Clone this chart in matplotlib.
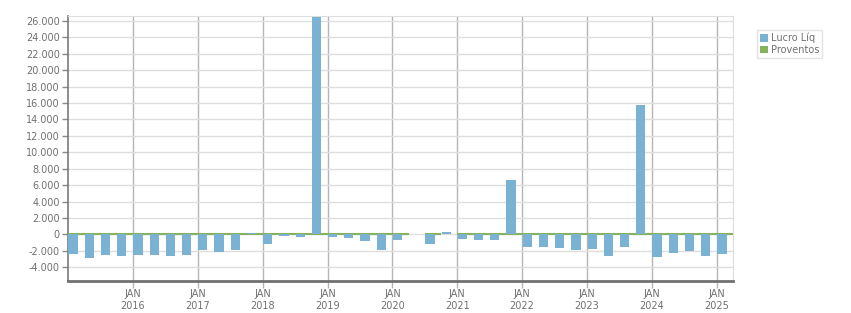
import numpy as np
import matplotlib
matplotlib.use("Agg")
import matplotlib.pyplot as plt
from matplotlib.patches import Patch

# quarterly values, Q1 2015 .. Q1 2025 (None = no data)
lucro_liq = [-2400, -2850, -2520, -2650, -2520, -2520, -2650, -2520,
             -1870, -2120, -1870, 150, -1150, -200, -300, 26500,
             -300, -410, -780, -1880, -660, None, -1180, 300,
             -570, -660, -670, 6620, -1530, -1530, -1650, -1890,
             -1770, -2630, -1530, 15800, -2750, -2260, -2000, -2620,
             -2380]
proventos = [0] * 21 + [None, 0, None] + [0] * 17
anos = [2016, 2017, 2018, 2019, 2020, 2021, 2022, 2023, 2024, 2025]

azul = "#7ab2d4"
verde = "#86b25c"
cinza_txt = "#707070"

fig = plt.figure(figsize=(8.51, 3.13), dpi=100)
ax = fig.add_axes([68 / 851, (313 - 280.7) / 313, (733 - 68) / 851, (280.7 - 16) / 313])

q = np.arange(len(lucro_liq))
lq = np.array([np.nan if v is None else v for v in lucro_liq], dtype=float)
pv = np.array([np.nan if v is None else v for v in proventos], dtype=float)

# proventos: zero-height bars, drawn as green strokes
ok = ~np.isnan(pv)
ax.bar(q[ok], pv[ok], width=1.0, align="edge", color=verde,
       edgecolor=verde, linewidth=1.5, zorder=3)

ok = ~np.isnan(lq)
ax.bar(q[ok] + 0.03, lq[ok], width=0.57, align="edge", color=azul,
       linewidth=0, zorder=4)

ax.set_xlim(0, len(lucro_liq))
ax.set_ylim(-5650, 26610)

ax.set_yticks(np.arange(-4000, 26001, 2000))
ax.set_yticklabels([f"{v:,}".replace(",", ".") for v in range(-4000, 26001, 2000)])
xt = [(a - 2015) * 4 for a in anos]
ax.set_xticks(xt)
ax.set_xticklabels([f"JAN\n{a}" for a in anos], linespacing=1.25)

ax.grid(axis="y", color="#dedede", linewidth=1, zorder=0)
ax.grid(axis="x", color="#b5b5b5", linewidth=1, zorder=1)
ax.set_axisbelow(True)

ax.tick_params(axis="y", direction="out", length=4, width=1, color="#888888",
               labelsize=7, labelcolor=cinza_txt, pad=2)
ax.tick_params(axis="x", direction="out", length=5, width=1, color="#b5b5b5",
               labelsize=7, labelcolor=cinza_txt, pad=1)

ax.spines["left"].set_color("#7a7a7a")
ax.spines["left"].set_linewidth(1.2)
ax.spines["bottom"].set_color("#707070")
ax.spines["bottom"].set_linewidth(2.0)
ax.spines["top"].set_color("#dedede")
ax.spines["right"].set_color("#dedede")

handles = [Patch(facecolor=azul, edgecolor="none", label="Lucro Líq"),
           Patch(facecolor=verde, edgecolor="none", label="Proventos")]
leg = fig.legend(handles=handles, loc="upper left",
                 bbox_to_anchor=(757 / 851, 1 - 30 / 313), fontsize=7,
                 frameon=True, fancybox=False, handlelength=0.8,
                 handleheight=0.8, handletextpad=0.3, borderpad=0.3,
                 labelspacing=0.15, borderaxespad=0)
leg.get_frame().set_edgecolor("#dddddd")
leg.get_frame().set_linewidth(1)
for t in leg.get_texts():
    t.set_color(cinza_txt)

fig.savefig("out.png", dpi=100)
